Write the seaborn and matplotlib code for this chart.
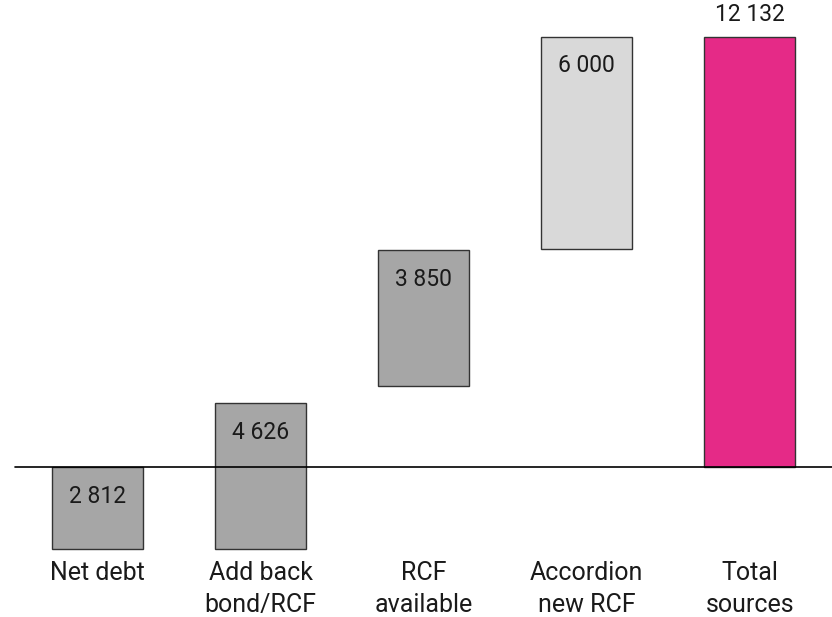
import matplotlib
matplotlib.use("Agg")
import matplotlib.pyplot as plt
import seaborn as sns

# waterfall data
categories = ["Net debt", "Add back\nbond/RCF", "RCF\navailable", "Accordion\nnew RCF", "Total\nsources"]
value_labels = ["2 812", "4 626", "3 850", "6 000", "12 132"]
bar_low = [-2310, -2310, 2285, 6150, 0]
bar_high = [0, 1805, 6120, 12132, 12132]
bar_colors = ["#a6a6a6", "#a6a6a6", "#a6a6a6", "#d9d9d9", "#e52a87"]

heights = [h - l for l, h in zip(bar_low, bar_high)]

sns.set_style("white")
plt.rcParams["font.family"] = ["Roboto", "DejaVu Sans"]

fig = plt.figure(figsize=(8.32, 6.17), dpi=100)
ax = fig.add_axes([0, 0.1005, 1, 0.8995])

sns.barplot(x=categories, y=heights, hue=categories, palette=bar_colors,
            saturation=1, legend=False, errorbar=None, width=0.558,
            edgecolor="#333333", linewidth=1, ax=ax)

# float the bars
for patch, low in zip(ax.patches, bar_low):
    patch.set_y(low)
    patch.set_clip_on(False)

ax.set_xlim(-0.598, 4.503)
ax.set_ylim(-2480, 13170)
ax.axhline(0, xmin=0.018, xmax=1, color="black", linewidth=1.2, zorder=3)

# value labels: inside near the top, total above
for i, (txt, top) in enumerate(zip(value_labels, bar_high)):
    off = 16 if i == len(value_labels) - 1 else -21
    ax.annotate(txt, (i, top), xytext=(0, off), textcoords="offset points",
                ha="center", va="center", fontsize=16.5, color="#1a1a1a")

ax.set_xticks(range(len(categories)))
ax.set_xticklabels(categories, fontsize=18, color="#1a1a1a", linespacing=1.45)
ax.tick_params(axis="x", length=0, pad=4)
ax.set_yticks([])
ax.set_xlabel("")
ax.set_ylabel("")
sns.despine(ax=ax, left=True, bottom=True)

fig.savefig("out.png", dpi=100)
